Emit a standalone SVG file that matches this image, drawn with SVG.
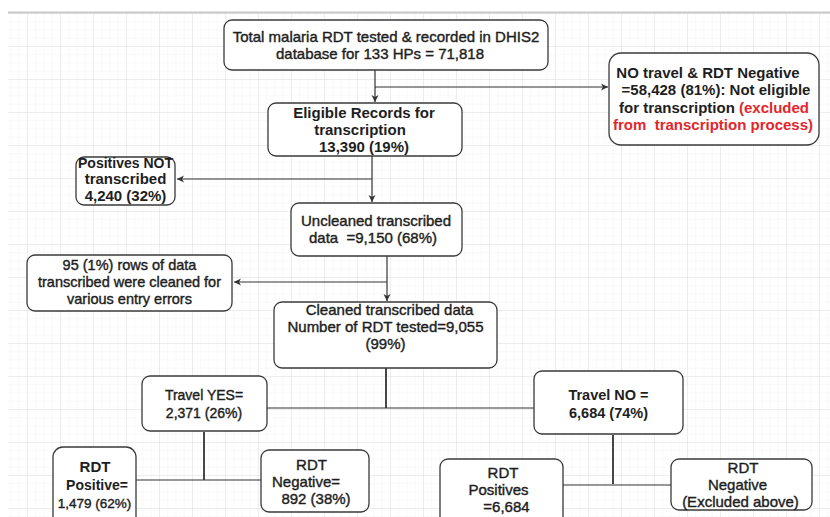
<svg xmlns="http://www.w3.org/2000/svg" width="830" height="517" viewBox="0 0 830 517">
<style>
.box{fill:#fff;stroke:#3a3a3a;stroke-width:1.3}
.t{font-family:"Liberation Sans",Arial,sans-serif;font-size:15px;fill:#1e1e1e;text-anchor:middle}
.m{stroke:#1e1e1e;stroke-width:0.4}
.b{font-weight:bold}
.red{fill:#e3262c}
.c{fill:none;stroke:#333;stroke-width:1.2}
.c2{fill:none;stroke:#333;stroke-width:1.8}
</style>
<defs>
<pattern id="minor" x="27" y="13" width="8.25" height="8.25" patternUnits="userSpaceOnUse">
<path d="M0,0 H8.25 M0,0 V8.25" fill="none" stroke="#f3f3f3" stroke-width="1"/>
</pattern>
<pattern id="major" x="27" y="13" width="33" height="33" patternUnits="userSpaceOnUse">
<path d="M0,0 H33 M0,0 V33" fill="none" stroke="#e2e2e2" stroke-width="1"/>
</pattern>
<marker id="arr" markerWidth="8" markerHeight="8" refX="7" refY="4" orient="auto" markerUnits="userSpaceOnUse">
<path d="M0,0.5 L7,4 L0,7.5 L2,4 z" fill="#333"/>
</marker>
</defs>
<rect width="830" height="517" fill="#fff"/>
<rect x="8" y="13" width="822" height="504" fill="url(#minor)"/>
<rect x="8" y="13" width="822" height="504" fill="url(#major)"/>
<line x1="8" y1="12.5" x2="830" y2="12.5" stroke="#c9c9c9" stroke-width="2"/>

<g id="connectors">
<path class="c" d="M375,70 V102" marker-end="url(#arr)"/>
<path class="c" d="M375,87 H608" marker-end="url(#arr)"/>
<path class="c" d="M372,156 V202" marker-end="url(#arr)"/>
<path class="c" d="M372,179 H177" marker-end="url(#arr)"/>
<path class="c" d="M387,256 V301" marker-end="url(#arr)"/>
<path class="c" d="M387,282 H234" marker-end="url(#arr)"/>
<path class="c2" d="M386,368 V408"/>
<path class="c" d="M267,408 H534"/>
<path class="c2" d="M204,432 V480"/>
<path class="c" d="M136,480 H261"/>
<path class="c2" d="M613,435 V484"/>
<path class="c" d="M563,485 H671"/>
</g>

<g id="total">
<rect class="box" x="224" y="20" width="324" height="50" rx="8"/>
<text class="t m" x="386" y="42">Total malaria RDT tested &amp; recorded in DHIS2</text>
<text class="t m" x="380" y="59">database for 133 HPs = 71,818</text>
</g>

<g id="eligible">
<rect class="box" x="268" y="103" width="194" height="53" rx="8"/>
<text class="t b" x="364" y="118">Eligible Records for</text>
<text class="t b" x="360" y="135">transcription</text>
<text class="t b" x="364" y="151.5">13,390 (19%)</text>
</g>

<g id="notravel">
<rect class="box" x="609" y="53" width="210" height="92" rx="12"/>
<text class="t b" x="708" y="78">NO travel &amp; RDT Negative</text>
<text class="t b" x="716" y="95">=58,428 (81%): Not eligible</text>
<text class="t b" x="714" y="113">for transcription <tspan class="red">(excluded</tspan></text>
<text class="t b red" x="713" y="130">from&#160; transcription process)</text>
</g>

<g id="positivesnot">
<rect class="box" x="76" y="157" width="99" height="48" rx="8"/>
<text class="t b" x="125.5" y="168" style="font-size:14px">Positives NOT</text>
<text class="t b" x="125.5" y="184">transcribed</text>
<text class="t b" x="125.5" y="201">4,240 (32%)</text>
</g>

<g id="uncleaned">
<rect class="box" x="291" y="203" width="171" height="53" rx="8"/>
<text class="t m" x="376" y="226">Uncleaned transcribed</text>
<text class="t m" x="373" y="243">data&#160; =9,150 (68%)</text>
</g>

<g id="rowscleaned">
<rect class="box" x="27" y="255" width="205" height="56" rx="8"/>
<text class="t m" x="129.5" y="269.5" style="font-size:14.5px">95 (1%) rows of data</text>
<text class="t m" x="129.5" y="286.5" style="font-size:14.5px">transcribed were cleaned for</text>
<text class="t m" x="129.5" y="303.5" style="font-size:14.5px">various entry errors</text>
</g>

<g id="cleaned">
<rect class="box" x="274" y="302" width="223" height="66" rx="8"/>
<text class="t m" x="389.5" y="315">Cleaned transcribed data</text>
<text class="t m" x="385.5" y="332">Number of RDT tested=9,055</text>
<text class="t m" x="385.5" y="349">(99%)</text>
</g>

<g id="travelyes">
<rect class="box" x="142" y="376" width="125" height="55" rx="8"/>
<text class="t m" x="204" y="400" style="font-size:14px">Travel YES=</text>
<text class="t m" x="204" y="418" style="font-size:14px">2,371 (26%)</text>
</g>

<g id="travelno">
<rect class="box" x="534" y="371" width="149" height="63" rx="8"/>
<text class="t b" x="608.5" y="400" style="font-size:14.5px">Travel NO =</text>
<text class="t b" x="608.5" y="418" style="font-size:14.5px">6,684 (74%)</text>
</g>

<g id="rdtpositive">
<rect class="box" x="53" y="447" width="83" height="80" rx="10"/>
<text class="t b" x="95" y="472">RDT</text>
<text class="t b" x="97" y="490" style="font-size:14px">Positive=</text>
<text class="t m" x="94.5" y="508" style="font-size:13.5px">1,479 (62%)</text>
</g>

<g id="rdtnegative">
<rect class="box" x="261" y="450" width="108" height="62" rx="8"/>
<text class="t m" x="311.5" y="470">RDT</text>
<text class="t m" x="306" y="487">Negative=</text>
<text class="t m" x="316" y="504">892 (38%)</text>
</g>

<g id="rdtpositives">
<rect class="box" x="440" y="459" width="123" height="70" rx="8"/>
<text class="t m" x="503" y="478">RDT</text>
<text class="t m" x="498.5" y="495">Positives</text>
<text class="t m" x="506.5" y="512">=6,684</text>
</g>

<g id="rdtnegexcluded">
<rect class="box" x="671" y="459" width="141" height="51" rx="8"/>
<text class="t m" x="743" y="473">RDT</text>
<text class="t m" x="737.5" y="490">Negative</text>
<text class="t m" x="740.5" y="507">(Excluded above)</text>
</g>
</svg>
